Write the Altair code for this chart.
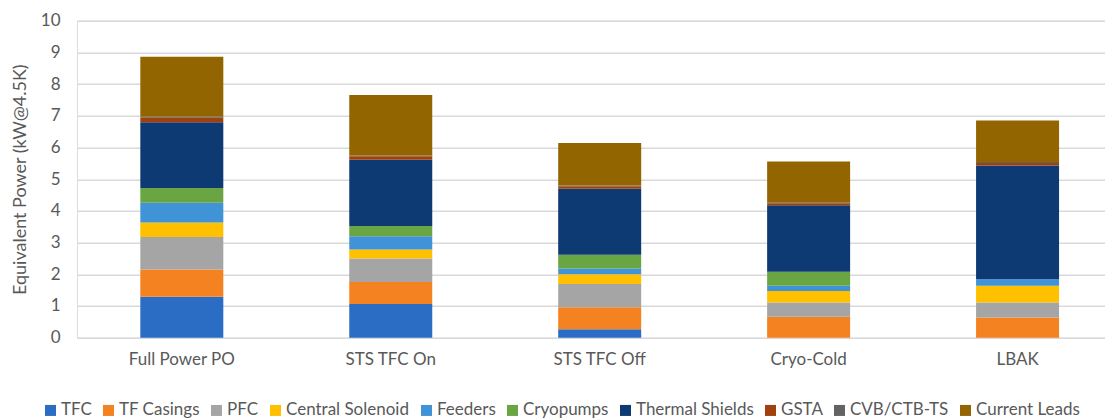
import altair as alt
import pandas as pd

scenarios = ["Full Power PO", "STS TFC On", "STS TFC Off", "Cryo-Cold", "LBAK"]
components = ["TFC", "TF Casings", "PFC", "Central Solenoid", "Feeders", "Cryopumps",
              "Thermal Shields", "GSTA", "CVB/CTB-TS", "Current Leads"]
colors = ["#2b6cc4", "#f58220", "#a5a5a5", "#ffc000", "#3f93d6", "#6aa544",
          "#0e3a73", "#a0400d", "#636363", "#926500"]

tfc = [1.29, 1.06, 0.27, 0.00, 0.00]
tf_casings = [0.86, 0.70, 0.69, 0.66, 0.64]
pfc = [1.03, 0.74, 0.73, 0.45, 0.47]
central_solenoid = [0.45, 0.28, 0.31, 0.36, 0.53]
feeders = [0.63, 0.42, 0.18, 0.17, 0.20]
cryopumps = [0.46, 0.32, 0.44, 0.44, 0.00]
thermal_shields = [2.08, 2.09, 2.08, 2.10, 3.59]
gsta = [0.14, 0.11, 0.08, 0.06, 0.08]
cvb = [0.03, 0.03, 0.02, 0.02, 0.03]
current_leads = [1.89, 1.91, 1.34, 1.30, 1.31]

series = [tfc, tf_casings, pfc, central_solenoid, feeders, cryopumps,
          thermal_shields, gsta, cvb, current_leads]

rows = []
for ci, (comp, vals) in enumerate(zip(components, series)):
    for s, v in zip(scenarios, vals):
        rows.append({"Scenario": s, "Component": comp, "Value": v, "idx": ci})
df = pd.DataFrame(rows)

FONT = "Lato"

chart = alt.Chart(df).mark_bar(size=83).encode(
    x=alt.X("Scenario:N", sort=scenarios, title=None,
            scale=alt.Scale(paddingInner=0.6, paddingOuter=0.26, align=0.58),
            axis=alt.Axis(labelAngle=0, labelFontSize=17, labelColor="#595959",
                          labelFont=FONT, domain=False, ticks=False, labelPadding=14)),
    y=alt.Y("Value:Q", title="Equivalent Power (kW@4.5K)",
            scale=alt.Scale(domain=[0, 10], nice=False),
            axis=alt.Axis(values=list(range(0, 11)), labelFontSize=17, labelColor="#595959",
                          labelFont=FONT, titleFont=FONT, titleFontSize=18,
                          titleColor="#595959", titleFontWeight="normal",
                          domain=False, ticks=False, labelPadding=17, titlePadding=11,
                          gridColor="#d9d9d9", gridWidth=1.5)),
    color=alt.Color("Component:N", sort=components,
                    scale=alt.Scale(domain=components, range=colors),
                    legend=alt.Legend(title=None, orient="none", direction="horizontal",
                                      columns=10, legendX=-35, legendY=381,
                                      symbolType="square", symbolSize=121,
                                      symbolStrokeWidth=0, symbolOffset=0,
                                      labelFontSize=17, labelFont=FONT,
                                      labelColor="#595959", columnPadding=8,
                                      labelOffset=2)),
    order=alt.Order("idx:Q", sort="ascending"),
).properties(
    width=1028, height=317,
    autosize=alt.AutoSizeParams(type="none"),
    padding={"left": 69, "top": 12.7, "right": 0, "bottom": 82},
).configure_view(stroke=None).configure(background="white")

chart.save("out.html", embed_options={"renderer": "svg", "actions": False})
